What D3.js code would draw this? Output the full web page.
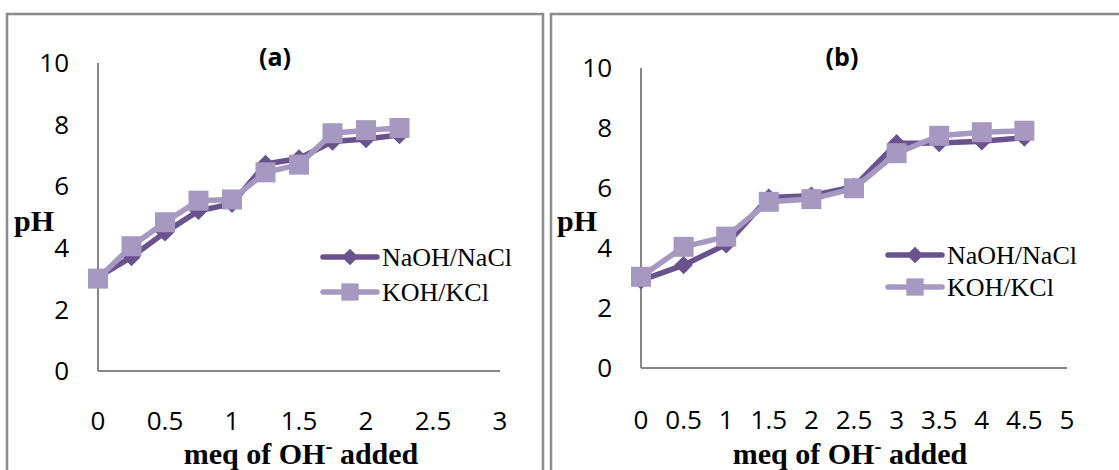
<!DOCTYPE html>
<html>
<head>
<meta charset="utf-8">
<script src="https://cdn.jsdelivr.net/npm/d3@7"></script>
<style>
    body { margin: 0; background: #fff; }
    svg { display: block; }
    .tick-label { font-family: "Open Sans", sans-serif; font-size: 26px; fill: #000; }
    .panel-title { font-family: "Open Sans", sans-serif; font-size: 25px; font-weight: bold; fill: #000; }
    .axis-title { font-family: "Liberation Serif", serif; font-weight: bold; fill: #000; }
    .legend-label { font-family: "Liberation Serif", serif; font-size: 26px; fill: #000; }
</style>
</head>
<body>
<svg id="chart"></svg>
<script>
// pH titration data
const seriesNames = ['NaOH/NaCl', 'KOH/KCl'];
const seriesColors = ['#6a528f', '#a698c0'];

const meqA = [0, 0.25, 0.5, 0.75, 1, 1.25, 1.5, 1.75, 2, 2.25];
const naohA = [3.05, 3.7, 4.5, 5.2, 5.43, 6.72, 6.9, 7.45, 7.53, 7.66];
const kohA = [3.0, 4.05, 4.83, 5.53, 5.57, 6.45, 6.7, 7.72, 7.82, 7.89];

const meqB = [0, 0.5, 1, 1.5, 2, 2.5, 3, 3.5, 4, 4.5];
const naohB = [2.92, 3.43, 4.12, 5.68, 5.74, 6.04, 7.49, 7.5, 7.56, 7.68];
const kohB = [3.04, 4.04, 4.38, 5.54, 5.63, 5.99, 7.16, 7.74, 7.86, 7.91];

const yTicks = [0, 2, 4, 6, 8, 10];
const xTicksA = [0, 0.5, 1, 1.5, 2, 2.5, 3];
const xTicksB = [0, 0.5, 1, 1.5, 2, 2.5, 3, 3.5, 4, 4.5, 5];

class TitrationChart {
    constructor(_config, _svg) {
        this.config = _config;
        this.svg = _svg;
        this.initVis();
    }

    initVis() {
        let vis = this;
        let c = vis.config;

        vis.g = vis.svg.append('g');

        // panel frame
        vis.g.append('rect')
            .attr('x', c.frame[0])
            .attr('y', c.frame[1])
            .attr('width', c.frame[2])
            .attr('height', c.frame[3])
            .attr('fill', 'none')
            .attr('stroke', '#8c8c8c')
            .attr('stroke-width', 2.5);

        vis.xScale = d3.scaleLinear()
            .domain([0, c.xMax])
            .range([c.left, c.right]);

        vis.yScale = d3.scaleLinear()
            .domain([0, 10])
            .range([c.bottom, c.top]);

        vis.updateVis();
    }

    updateVis() {
        let vis = this;
        let c = vis.config;

        vis.series = [
            { name: seriesNames[0], color: seriesColors[0], marker: 'diamond', values: c.naoh },
            { name: seriesNames[1], color: seriesColors[1], marker: 'square', values: c.koh }
        ];

        vis.line = d3.line()
            .x((d, i) => vis.xScale(c.meq[i]))
            .y(d => vis.yScale(d));

        vis.renderVis();
    }

    markerPath(type) {
        return type === 'diamond'
            ? d3.symbol(d3.symbolSquare, 170)()
            : d3.symbol(d3.symbolSquare, 400)();
    }

    renderVis() {
        let vis = this;
        let c = vis.config;

        // axis lines
        vis.g.append('line')
            .attr('x1', vis.xScale(0)).attr('x2', vis.xScale(0))
            .attr('y1', vis.yScale(10)).attr('y2', vis.yScale(0))
            .attr('stroke', '#868686').attr('stroke-width', 2);

        vis.g.append('line')
            .attr('x1', vis.xScale(0)).attr('x2', vis.xScale(c.xMax))
            .attr('y1', vis.yScale(0)).attr('y2', vis.yScale(0))
            .attr('stroke', '#868686').attr('stroke-width', 2);

        // y tick labels
        vis.g.selectAll('.y-label')
            .data(yTicks)
            .join('text')
            .attr('class', 'tick-label y-label')
            .attr('x', vis.xScale(0) - 29)
            .attr('y', d => vis.yScale(d))
            .attr('dy', '0.35em')
            .attr('text-anchor', 'end')
            .text(d => d);

        // x tick labels, Excel puts them well below the axis
        vis.g.selectAll('.x-label')
            .data(c.xTicks)
            .join('text')
            .attr('class', 'tick-label x-label')
            .attr('x', d => vis.xScale(d))
            .attr('y', vis.yScale(0) + c.xLabelGap)
            .attr('dy', '0.35em')
            .attr('text-anchor', 'middle')
            .text(d => d);

        vis.g.append('text')
            .attr('class', 'panel-title')
            .attr('x', c.titleX)
            .attr('y', 57)
            .attr('dy', '0.35em')
            .attr('text-anchor', 'middle')
            .text(c.title);

        vis.g.append('text')
            .attr('class', 'axis-title')
            .attr('x', c.pHX)
            .attr('y', 231)
            .style('font-size', '30px')
            .text('pH');

        let xt = vis.g.append('text')
            .attr('class', 'axis-title')
            .attr('x', c.xTitleX)
            .attr('y', 464)
            .attr('text-anchor', 'middle')
            .style('font-size', '30px');
        xt.append('tspan').text('meq of OH');
        xt.append('tspan').attr('dy', -11).style('font-size', '21px').text('-');
        xt.append('tspan').attr('dy', 11).text(' added');

        // series lines and markers
        vis.series.forEach(s => {
            vis.g.append('path')
                .datum(s.values)
                .attr('fill', 'none')
                .attr('stroke', s.color)
                .attr('stroke-width', 5.5)
                .attr('stroke-linejoin', 'round')
                .attr('d', vis.line);

            vis.g.selectAll(null)
                .data(s.values)
                .join('path')
                .attr('fill', s.color)
                .attr('transform', (d, i) => `translate(${vis.xScale(c.meq[i])},${vis.yScale(d)})` +
                    (s.marker === 'diamond' ? ' rotate(45)' : ''))
                .attr('d', vis.markerPath(s.marker));
        });

        // legend
        let legend = vis.g.append('g')
            .attr('transform', `translate(${c.legend[0]},${c.legend[1]})`);

        vis.series.forEach((s, i) => {
            let row = legend.append('g')
                .attr('transform', `translate(0,${i * c.legendStep})`);
            row.append('line')
                .attr('x1', 0).attr('x2', 54)
                .attr('stroke', s.color)
                .attr('stroke-width', 5.5)
                .attr('stroke-linecap', 'round');
            row.append('path')
                .attr('fill', s.color)
                .attr('transform', `translate(27,0)` + (s.marker === 'diamond' ? ' rotate(45)' : ''))
                .attr('d', s.marker === 'diamond' ? d3.symbol(d3.symbolSquare, 140)() : d3.symbol(d3.symbolSquare, 300)());
            row.append('text')
                .attr('class', 'legend-label')
                .attr('x', 59)
                .attr('y', 0)
                .attr('dy', '0.33em')
                .text(s.name);
        });
    }
}

const svg = d3.select('#chart')
    .attr('width', 1119)
    .attr('height', 470);

new TitrationChart({
    frame: [7, 14, 536, 480],
    left: 98, right: 500, top: 63, bottom: 371,
    xMax: 3,
    meq: meqA, naoh: naohA, koh: kohA,
    xTicks: xTicksA,
    xLabelGap: 50,
    title: '(a)', titleX: 275,
    pHX: 14,
    xTitleX: 301,
    legend: [323, 257], legendStep: 35
}, svg);

new TitrationChart({
    frame: [551, 14, 600, 480],
    left: 641, right: 1067, top: 68, bottom: 368,
    xMax: 5,
    meq: meqB, naoh: naohB, koh: kohB,
    xTicks: xTicksB,
    xLabelGap: 52,
    title: '(b)', titleX: 842,
    pHX: 557,
    xTitleX: 850,
    legend: [888, 255], legendStep: 32
}, svg);
</script>
</body>
</html>
